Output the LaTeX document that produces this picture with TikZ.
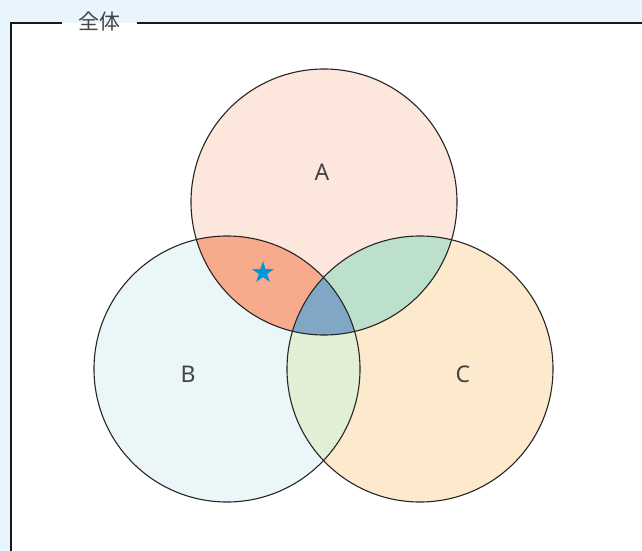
\documentclass[tikz,border=0pt]{standalone}
\usepackage{fontspec}
\setmainfont{Noto Sans}
\newfontfamily\cjk{Noto Sans CJK JP}
\newfontfamily\symf{DejaVu Sans}
\definecolor{bgblue}{HTML}{E8F5FD}
\definecolor{colA}{HTML}{FDE6DC}
\definecolor{colB}{HTML}{EAF6F8}
\definecolor{colC}{HTML}{FDEACC}
\definecolor{colAB}{HTML}{F8AA8C}
\definecolor{colAC}{HTML}{BDE0CD}
\definecolor{colBC}{HTML}{E1EFD5}
\definecolor{colABC}{HTML}{80A8C6}
\definecolor{txt}{HTML}{444444}
\definecolor{starblue}{HTML}{0094D8}
\begin{document}
\begin{tikzpicture}[x=1pt,y=-1pt,
  lbl/.style={font=\fontsize{23}{23}\selectfont, text=txt},
  outline/.style={draw=black!85, line width=1.1pt}]
\useasboundingbox (0,0) rectangle (642,551);
\fill[bgblue] (0,0) rectangle (642,551);
\fill[white] (11,23) rectangle (645,555);
\node[font=\cjk\fontsize{21}{21}\selectfont, text=txt, inner sep=0pt] (title) at (99,21) {全体};
\coordinate (tl) at (11,23);
\coordinate (bl) at (11,555);
\coordinate (g1) at (62,23);
\coordinate (g2) at (137,23);
\coordinate (tr) at (645,23);
\draw[black!90, line width=1.6pt] (bl) -- (tl) -- (g1);
\draw[black!90, line width=1.6pt] (g2) -- (tr);
% circles
\coordinate (cA) at (324,202);
\coordinate (cB) at (227,369);
\coordinate (cC) at (420,369);
\def\R{133}
\fill[colA] (cA) circle (\R);
\fill[colB] (cB) circle (\R);
\fill[colC] (cC) circle (\R);
\begin{scope}
  \clip (cA) circle (\R);
  \fill[colAB] (cB) circle (\R);
  \fill[colAC] (cC) circle (\R);
\end{scope}
\begin{scope}
  \clip (cB) circle (\R);
  \fill[colBC] (cC) circle (\R);
\end{scope}
\begin{scope}
  \clip (cA) circle (\R);
  \clip (cB) circle (\R);
  \fill[colABC] (cC) circle (\R);
\end{scope}
\draw[outline] (cA) circle (\R);
\draw[outline] (cB) circle (\R);
\draw[outline] (cC) circle (\R);
\node[lbl] (lA) at (322,172) {A};
\node[lbl] (lB) at (188,374) {B};
\node[lbl] (lC) at (463,374) {C};
\node[font=\symf\fontsize{29}{29}\selectfont, text=starblue, inner sep=0pt] (star) at (263,272) {★};
\end{tikzpicture}
\end{document}
